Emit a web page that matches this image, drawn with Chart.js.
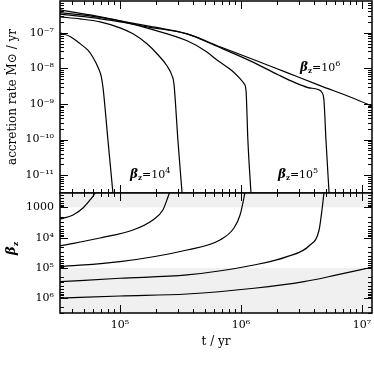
<!DOCTYPE html>
<html><head><meta charset="utf-8">
<script src="https://cdn.jsdelivr.net/npm/chart.js@4"></script>
<style>
html,body{margin:0;padding:0;background:#fff;width:374px;height:374px;overflow:hidden;}
canvas{position:absolute;left:0;}
#topc{top:0;width:374px;height:194px;}
#botc{top:192px;width:374px;height:182px;}
</style></head><body>
<canvas id="topc" width="374" height="194"></canvas>
<canvas id="botc" width="374" height="182"></canvas>
<script>
// ---------- data ----------
// accretion rate (Msun/yr) vs time (yr), five runs
const timeA = [3.19e4, 3.9e4, 4.7e4, 5.45e4, 6.0e4, 6.6e4, 7.0e4, 7.25e4, 7.95e4, 8.75e4];
const mdotA = [1.0e-7, 7.8e-8, 4.9e-8, 3.2e-8, 2.0e-8, 1.05e-8, 5.9e-9, 2.7e-9, 9.5e-11, 3.0e-12];

const timeB = [3.19e4, 4.67e4, 6.84e4, 1.0e5, 1.28e5, 1.67e5, 2.02e5, 2.44e5, 2.69e5, 2.79e5, 3.01e5, 3.26e5];
const mdotB = [2.81e-7, 2.47e-7, 2.03e-7, 1.38e-7, 9.4e-8, 4.92e-8, 2.59e-8, 1.19e-8, 6.27e-9, 3.74e-9, 9.5e-11, 3.0e-12];

const timeC = [3.19e4, 5.65e4, 1.0e5, 1.77e5, 3.58e5, 5.04e5, 6.46e5, 8.43e5, 9.82e5, 1.06e6, 1.10e6, 1.14e6, 1.21e6];
const mdotC = [4.41e-7, 3.19e-7, 2.17e-7, 1.29e-7, 5.97e-8, 3.14e-8, 1.65e-8, 8.65e-9, 5.16e-9, 3.74e-9, 2.39e-9, 9.5e-11, 3.0e-12];

const timeD = [3.19e4, 5.65e4, 1.0e5, 1.77e5, 3.58e5, 6.46e5, 1.23e6, 2.02e6, 2.79e6, 3.58e6, 4.33e6, 4.67e6, 4.85e6, 5.04e6, 5.35e6];
const mdotD = [3.71e-7, 2.99e-7, 2.17e-7, 1.52e-7, 9.38e-8, 4.06e-8, 1.55e-8, 6.68e-9, 3.99e-9, 2.90e-9, 2.55e-9, 2.10e-9, 1.25e-9, 9.5e-11, 3.0e-12];

const timeE = [3.19e4, 5.65e4, 1.0e5, 1.77e5, 3.58e5, 6.70e5, 1.28e6, 2.40e6, 4.50e6, 8.59e6, 1.23e7];
const mdotE = [3.34e-7, 2.72e-7, 2.03e-7, 1.43e-7, 9.38e-8, 4.06e-8, 1.76e-8, 7.60e-9, 3.29e-9, 1.43e-9, 8.51e-10];

// beta_z vs time, same five runs
const btimeA = [3.19e4, 4.09e4, 4.94e4, 5.65e4, 6.21e4, 6.58e4];
const betaA  = [2.4e3, 1.77e3, 1.04e3, 565, 332, 180];
const btimeB = [3.19e4, 6.84e4, 1.28e5, 1.87e5, 2.26e5, 2.49e5, 2.64e5];
const betaB  = [1.87e4, 1.02e4, 5.55e3, 2.59e3, 1.21e3, 450, 226];
const btimeC = [3.19e4, 1.0e5, 3.58e5, 6.70e5, 8.75e5, 9.82e5, 1.06e6, 1.09e6];
const betaC  = [9.06e4, 6.19e4, 2.54e4, 1.19e4, 4.76e3, 1.77e3, 450, 226];
const btimeD = [3.19e4, 1.0e5, 3.58e5, 1.28e6, 2.40e6, 3.72e6, 4.42e6, 4.67e6, 4.85e6, 4.94e6];
const betaD  = [2.84e5, 2.19e5, 1.70e5, 7.96e4, 4.23e4, 1.74e4, 5.55e3, 1.21e3, 332, 195];
const btimeE = [3.19e4, 1.0e5, 3.58e5, 1.28e6, 3.32e6, 6.21e6, 9.62e6, 1.23e7];
const betaE  = [1.0e6, 8.43e5, 7.24e5, 4.69e5, 2.84e5, 1.70e5, 1.16e5, 9.27e4];

// ticks / labels
const timeTicks  = [1e5, 1e6, 1e7];
const timeLabels = ['10⁵', '10⁶', '10⁷'];
const mdotTicks  = [1e-7, 1e-8, 1e-9, 1e-10, 1e-11];
const mdotLabels = ['10⁻⁷', '10⁻⁸', '10⁻⁹', '10⁻¹⁰', '10⁻¹¹'];
const betaTicks  = [1e3, 1e4, 1e5, 1e6];
const betaLabels = ['1000', '10⁴', '10⁵', '10⁶'];

// axis ranges
const timeRange = [3.19e4, 1.21e7];
const mdotRange = [3.16e-12, 7.85e-7];
const betaRange = [332, 3.08e6];

// shaded beta bands (lower, upper)
const shadedBeta = [[332, 1e3], [1e5, 3.08e6]];

// in-panel labels: [beta exponent, t anchor, mdot anchor]
const runLabels = [['6', 3.08e6, 8.65e-9], ['5', 2.02e6, 8.24e-12], ['4', 1.21e5, 8.24e-12]];

// ---------- helpers ----------
const SERIF = '"DejaVu Serif", serif';
const MONO = '"Liberation Mono", monospace';
const pts = (xs, ys) => xs.map((x, i) => ({x, y: ys[i]}));
const lineDS = (xs, ys) => ({data: pts(xs, ys), borderColor: '#000', borderWidth: 1.2,
  pointRadius: 0, fill: false, cubicInterpolationMode: 'monotone'});

function decadeTicks(scale) {
  const lo = Math.min(scale.min, scale.max), hi = Math.max(scale.min, scale.max);
  const out = [];
  for (let d = Math.floor(Math.log10(lo)); d <= Math.ceil(Math.log10(hi)); d++) {
    for (let m = 1; m <= 9; m++) {
      const v = m * Math.pow(10, d);
      if (v >= lo * 0.9999 && v <= hi * 1.0001) out.push({v, major: m === 1});
    }
  }
  return out;
}

const framePlugin = {
  id: 'frame',
  beforeDatasetsDraw(chart, args, opts) {
    const {ctx, chartArea: a} = chart;
    const ys = chart.scales.y;
    ctx.save();
    ctx.fillStyle = '#f0f0f0';
    (opts.bands || []).forEach(([lo, hi]) => {
      const p1 = ys.getPixelForValue(lo), p2 = ys.getPixelForValue(hi);
      const t = Math.max(a.top, Math.min(p1, p2)), b = Math.min(a.bottom, Math.max(p1, p2));
      ctx.fillRect(a.left, t, a.right - a.left, b - t);
    });
    ctx.restore();
  },
  afterDatasetsDraw(chart, args, opts) {
    const {ctx, chartArea: a} = chart;
    const xs = chart.scales.x, ys = chart.scales.y;
    ctx.save();
    ctx.strokeStyle = '#000';
    ctx.lineWidth = 1;
    ctx.beginPath();
    for (const t of decadeTicks(xs)) {
      const p = Math.round(xs.getPixelForValue(t.v)) + 0.5, L = t.major ? 8 : 4;
      ctx.moveTo(p, a.top); ctx.lineTo(p, a.top + L);
      ctx.moveTo(p, a.bottom); ctx.lineTo(p, a.bottom - L);
    }
    for (const t of decadeTicks(ys)) {
      const p = Math.round(ys.getPixelForValue(t.v)) + 0.5, L = t.major ? 8 : 4;
      ctx.moveTo(a.left, p); ctx.lineTo(a.left + L, p);
      ctx.moveTo(a.right, p); ctx.lineTo(a.right - L, p);
    }
    ctx.stroke();
    ctx.lineWidth = 1.5;
    ctx.strokeRect(a.left, a.top, a.right - a.left, a.bottom - a.top);
    ctx.fillStyle = '#000';
    (opts.labels || []).forEach(([exp, t, m]) => {
      drawBetaLabel(ctx, xs.getPixelForValue(t), ys.getPixelForValue(m), exp);
    });
    if (opts.betaTitle) {
      ctx.save();
      ctx.translate(15, (a.top + a.bottom) / 2 + 2);
      ctx.rotate(-Math.PI / 2);
      ctx.font = 'italic bold 13px ' + SERIF;
      ctx.textBaseline = 'alphabetic';
      ctx.fillText('β', 0, 0);
      const w = ctx.measureText('β').width;
      ctx.font = 'bold 8px ' + SERIF;
      ctx.fillText('z', w, 3);
      ctx.restore();
    }
    ctx.restore();
  }
};

function drawBetaLabel(ctx, x, y, exp) {
  const parts = [
    {t: 'β', font: 'italic bold 12px ' + SERIF, dy: 0},
    {t: 'z', font: 'bold 7px ' + SERIF, dy: 2},
    {t: '=10', font: '11px ' + SERIF, dy: 0},
    {t: exp, font: '8px ' + SERIF, dy: -5}
  ];
  let cx = x;
  ctx.textBaseline = 'alphabetic';
  ctx.textAlign = 'left';
  for (const p of parts) {
    ctx.font = p.font;
    ctx.fillText(p.t, cx, y + p.dy);
    cx += ctx.measureText(p.t).width;
  }
}

function noPad(s) { s.paddingTop = 0; s.paddingBottom = 0; s.paddingLeft = 0; s.paddingRight = 0; }

function logAxis(range, ticks, labels, extra) {
  return Object.assign({
    type: 'logarithmic', min: range[0], max: range[1],
    grid: {display: false, drawTicks: false},
    border: {display: false},
    afterBuildTicks: s => { s.ticks = ticks.map(v => ({value: v})); },
    ticks: {
      autoSkip: false, maxRotation: 0, padding: 6, color: '#000',
      font: {family: SERIF, size: 11},
      callback: v => labels[ticks.findIndex(t => Math.abs(t - v) / t < 1e-6)]
    }
  }, extra || {});
}

Chart.defaults.animation = false;

// ---------- top panel ----------
new Chart(document.getElementById('topc'), {
  type: 'line',
  data: {datasets: [lineDS(timeA, mdotA), lineDS(timeB, mdotB), lineDS(timeC, mdotC),
                    lineDS(timeD, mdotD), lineDS(timeE, mdotE)]},
  options: {
    responsive: false, animation: false,
    layout: {padding: {top: 1, right: 2, bottom: 1, left: 0}},
    plugins: {legend: {display: false}, tooltip: {enabled: false},
      frame: {labels: runLabels}},
    scales: {
      x: {type: 'logarithmic', min: timeRange[0], max: timeRange[1], display: false,
        afterFit: noPad},
      y: logAxis(mdotRange, mdotTicks, mdotLabels, {
        afterFit: s => { s.width = 60; noPad(s); },
        title: {display: true, text: 'accretion rate Ṁ⊙ / yr', color: '#000',
          font: {family: SERIF, size: 12}, padding: {top: 6, bottom: 0}}
      })
    }
  },
  plugins: [framePlugin]
});

// ---------- bottom panel ----------
new Chart(document.getElementById('botc'), {
  type: 'line',
  data: {datasets: [lineDS(btimeA, betaA), lineDS(btimeB, betaB), lineDS(btimeC, betaC),
                    lineDS(btimeD, betaD), lineDS(btimeE, betaE)]},
  options: {
    responsive: false, animation: false,
    layout: {padding: {top: 1, right: 2, bottom: 0, left: 0}},
    plugins: {legend: {display: false}, tooltip: {enabled: false},
      frame: {bands: shadedBeta, betaTitle: true}},
    scales: {
      x: logAxis(timeRange, timeTicks, timeLabels, {
        afterFit: s => { s.height = 61; noPad(s); },
        title: {display: true, text: 't / yr', color: '#000',
          font: {family: SERIF, size: 12}, padding: {top: 0, bottom: 25}}
      }),
      y: logAxis(betaRange, betaTicks, betaLabels, {
        reverse: true,
        afterFit: s => { s.width = 60; noPad(s); }
      })
    }
  },
  plugins: [framePlugin]
});
</script>
</body></html>
